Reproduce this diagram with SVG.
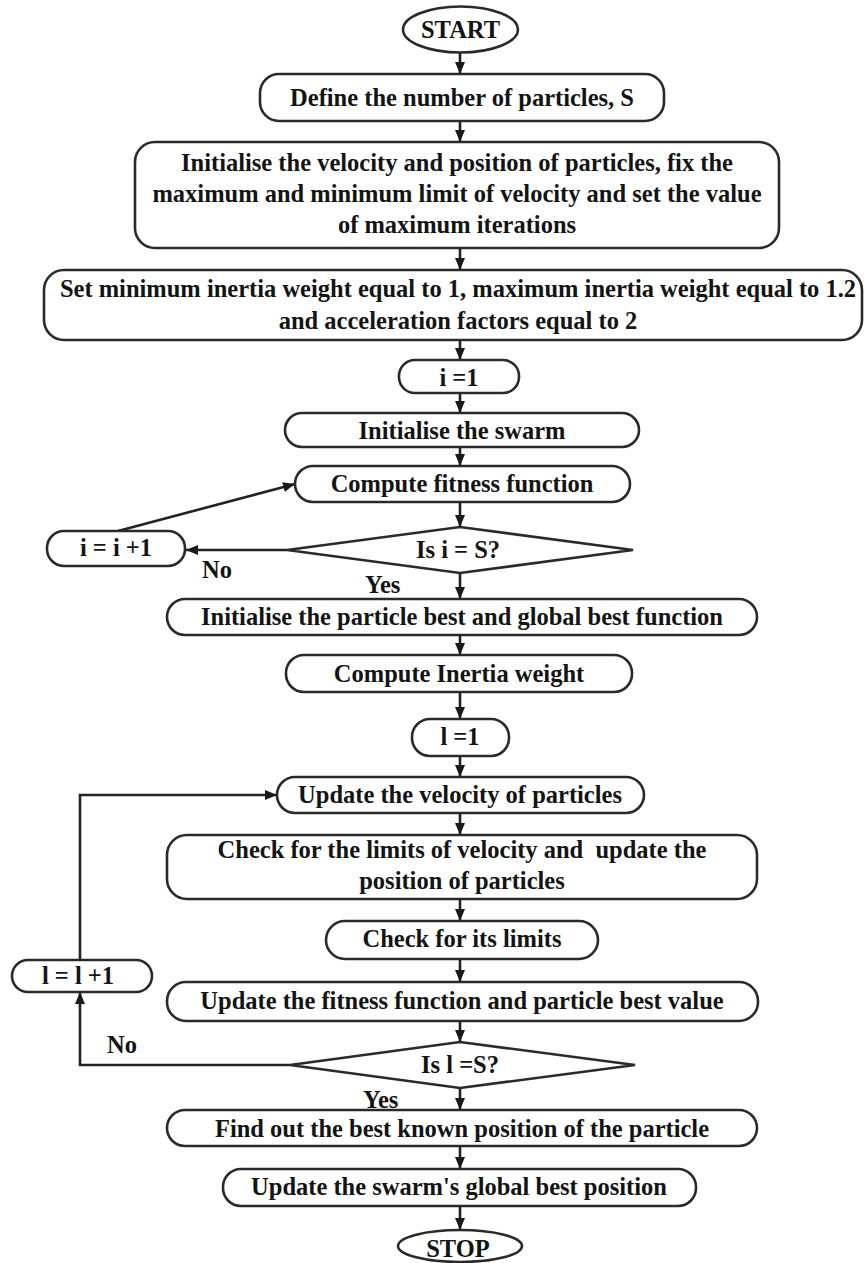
<svg xmlns="http://www.w3.org/2000/svg" width="865" height="1263" viewBox="0 0 865 1263">
  <style>
    .shape { fill: #ffffff; stroke: #2a2a2a; stroke-width: 2.6; }
    .lbl { font-family: "Liberation Serif", "Times New Roman", serif; font-weight: bold; font-size: 24.5px; fill: #141414; text-anchor: middle; }
    .tag { font-family: "Liberation Serif", "Times New Roman", serif; font-weight: bold; font-size: 24.5px; fill: #141414; }
    .conn { fill: none; stroke: #222222; stroke-width: 2.6; marker-end: url(#arrow); }
    .conn-plain { fill: none; stroke: #222222; stroke-width: 2.6; }
  </style>
  <defs>
    <marker id="arrow" viewBox="0 0 12 10" refX="12" refY="5" markerWidth="12" markerHeight="10" markerUnits="userSpaceOnUse" orient="auto">
      <path d="M0,0 L12,5 L0,10 z" fill="#1a1a1a"/>
    </marker>
  </defs>
  <rect width="865" height="1263" fill="#ffffff"/>

  <!-- connectors -->
  <g id="connectors">
    <line class="conn" x1="460" y1="53" x2="460" y2="74"/>
    <line class="conn" x1="460" y1="121" x2="460" y2="142"/>
    <line class="conn" x1="460" y1="248" x2="460" y2="270"/>
    <line class="conn" x1="460" y1="340" x2="460" y2="360"/>
    <line class="conn" x1="460" y1="393" x2="460" y2="413"/>
    <line class="conn" x1="460" y1="447" x2="460" y2="466"/>
    <line class="conn" x1="460" y1="502" x2="460" y2="527"/>
    <line class="conn" x1="460" y1="573" x2="460" y2="599"/>
    <line class="conn" x1="460" y1="635" x2="460" y2="655"/>
    <line class="conn" x1="460" y1="692" x2="460" y2="719"/>
    <line class="conn" x1="460" y1="756" x2="460" y2="777"/>
    <line class="conn" x1="460" y1="813" x2="460" y2="835"/>
    <line class="conn" x1="460" y1="899" x2="460" y2="921"/>
    <line class="conn" x1="460" y1="959" x2="460" y2="982"/>
    <line class="conn" x1="460" y1="1021" x2="460" y2="1042"/>
    <line class="conn" x1="460" y1="1088" x2="460" y2="1110"/>
    <line class="conn" x1="460" y1="1146" x2="460" y2="1169"/>
    <line class="conn" x1="460" y1="1206" x2="460" y2="1230"/>
    <!-- first loop: No branch back to fitness computation -->
    <line class="conn" x1="287" y1="550" x2="186" y2="550"/>
    <line class="conn" x1="118" y1="531" x2="295" y2="484"/>
    <!-- second loop: No branch back to velocity update -->
    <polyline class="conn" points="290,1065 80,1065 80,992"/>
    <polyline class="conn" points="80,960 80,795 277,795"/>
    <text class="tag" x="202" y="578">No</text>
    <text class="tag" x="365" y="593">Yes</text>
    <text class="tag" x="107" y="1053">No</text>
    <text class="tag" x="363" y="1108">Yes</text>
  </g>

  <g id="start">
    <ellipse class="shape" cx="460.5" cy="29.5" rx="57.5" ry="23"/>
    <text class="lbl" x="460.5" y="38">START</text>
  </g>

  <g id="define-particles">
    <rect class="shape" x="260" y="74" width="404" height="47" rx="19"/>
    <text class="lbl" x="462" y="106">Define the number of particles, S</text>
  </g>

  <g id="init-velocity">
    <rect class="shape" x="135" y="142" width="644" height="106" rx="20"/>
    <text class="lbl" x="457" y="171">Initialise the velocity and position of particles, fix the</text>
    <text class="lbl" x="457" y="202">maximum and minimum limit of velocity and set the value</text>
    <text class="lbl" x="457" y="233">of maximum iterations</text>
  </g>

  <g id="set-weights">
    <rect class="shape" x="44" y="270" width="818" height="70" rx="20"/>
    <text class="lbl" x="458" y="297">Set minimum inertia weight equal to 1, maximum inertia weight equal to 1.2</text>
    <text class="lbl" x="458" y="329">and acceleration factors equal to 2</text>
  </g>

  <g id="i-init">
    <rect class="shape" x="399" y="360" width="120" height="33" rx="16"/>
    <text class="lbl" x="459" y="386">i =1</text>
  </g>

  <g id="init-swarm">
    <rect class="shape" x="285" y="413" width="354" height="34" rx="17"/>
    <text class="lbl" x="462" y="439">Initialise the swarm</text>
  </g>

  <g id="compute-fitness">
    <rect class="shape" x="295" y="466" width="335" height="36" rx="18"/>
    <text class="lbl" x="462" y="492">Compute fitness function</text>
  </g>

  <g id="decision-i">
    <polygon class="shape" points="287,550 460,527 633,550 460,573"/>
    <text class="lbl" x="458" y="558">Is i = S?</text>
  </g>

  <g id="i-increment">
    <rect class="shape" x="47" y="531" width="138" height="35" rx="17"/>
    <text class="lbl" x="116" y="556">i = i +1</text>
  </g>

  <g id="init-best">
    <rect class="shape" x="167" y="599" width="590" height="36" rx="18"/>
    <text class="lbl" x="462" y="625">Initialise the particle best and global best function</text>
  </g>

  <g id="compute-inertia">
    <rect class="shape" x="286" y="655" width="346" height="37" rx="18"/>
    <text class="lbl" x="459" y="682">Compute Inertia weight</text>
  </g>

  <g id="l-init">
    <rect class="shape" x="412" y="719" width="97" height="37" rx="18"/>
    <text class="lbl" x="460" y="745">l =1</text>
  </g>

  <g id="update-velocity">
    <rect class="shape" x="277" y="777" width="367" height="36" rx="18"/>
    <text class="lbl" x="460" y="803">Update the velocity of particles</text>
  </g>

  <g id="check-velocity">
    <rect class="shape" x="167" y="835" width="590" height="64" rx="20"/>
    <text class="lbl" x="462" y="858" xml:space="preserve">Check for the limits of velocity and  update the</text>
    <text class="lbl" x="462" y="889">position of particles</text>
  </g>

  <g id="check-limits">
    <rect class="shape" x="326" y="921" width="272" height="38" rx="19"/>
    <text class="lbl" x="462" y="947">Check for its limits</text>
  </g>

  <g id="l-increment">
    <rect class="shape" x="12" y="960" width="140" height="32" rx="16"/>
    <text class="lbl" x="78" y="984">l = l +1</text>
  </g>

  <g id="update-fitness">
    <rect class="shape" x="167" y="982" width="591" height="39" rx="19"/>
    <text class="lbl" x="462" y="1009">Update the fitness function and particle best value</text>
  </g>

  <g id="decision-l">
    <polygon class="shape" points="290,1065 460,1042 635,1065 460,1088"/>
    <text class="lbl" x="460" y="1073">Is l =S?</text>
  </g>

  <g id="find-best">
    <rect class="shape" x="167" y="1110" width="590" height="36" rx="18"/>
    <text class="lbl" x="462" y="1137">Find out the best known position of the particle</text>
  </g>

  <g id="update-global">
    <rect class="shape" x="223" y="1169" width="473" height="37" rx="18"/>
    <text class="lbl" x="459" y="1195">Update the swarm's global best position</text>
  </g>

  <g id="stop">
    <ellipse class="shape" cx="460" cy="1246" rx="62" ry="16"/>
    <text class="lbl" x="458" y="1257">STOP</text>
  </g>
</svg>
